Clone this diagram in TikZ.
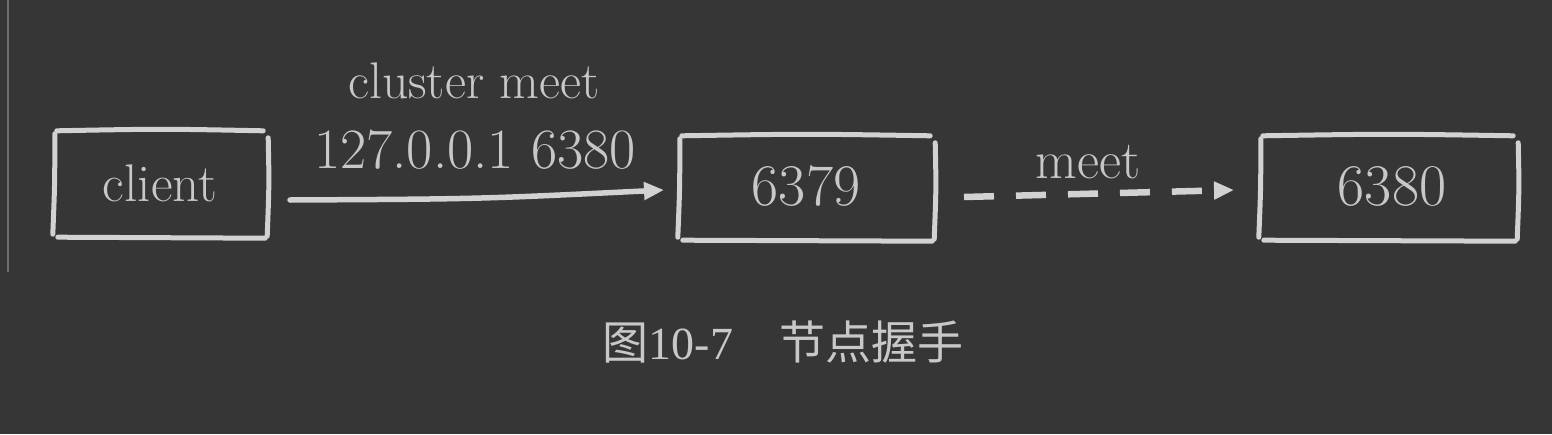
\documentclass[tikz,border=0pt]{standalone}
\usepackage{fontspec}
\newfontfamily\cjk{Noto Sans CJK SC}
\newfontfamily\capserif{Liberation Serif}
\usetikzlibrary{arrows.meta,calc}
\definecolor{bg}{HTML}{363636}
\definecolor{ink}{HTML}{D2D2D2}
\definecolor{txt}{HTML}{C8C8C8}
\definecolor{rule}{HTML}{6E6E6E}
\tikzset{
  boxnode/.style={minimum height=110pt, inner sep=0pt},
  sketch/.style={draw=ink, line width=5pt, line cap=round},
  lbl/.style={text=txt, font=\fontsize{52}{56}\selectfont, inner sep=0pt, anchor=base},
  solidarrow/.style={draw=ink, line width=5.5pt, line cap=round, -{Triangle[length=20pt,width=17pt]}},
  dasharrow/.style={draw=ink, line width=6.5pt, dash pattern=on 30pt off 22pt, -{Triangle[length=20pt,width=17pt]}},
}
\newcommand\sketchbox[1]{%
  \draw[sketch] ([xshift=5pt,yshift=-3pt]#1.north west) .. controls ($(#1.north)+(0,-1pt)$) .. ([xshift=-7pt,yshift=-3pt]#1.north east);
  \draw[sketch] ([xshift=-2pt,yshift=-10pt]#1.north east) .. controls ($(#1.east)+(-1pt,0)$) .. ([xshift=-3pt,yshift=4pt]#1.south east);
  \draw[sketch] ([xshift=6pt,yshift=3pt]#1.south west) .. controls ($(#1.south)+(0,2pt)$) .. ([xshift=-5pt,yshift=2pt]#1.south east);
  \draw[sketch] ([xshift=3pt,yshift=-6pt]#1.north west) .. controls ($(#1.west)+(3pt,0)$) .. ([xshift=1pt,yshift=6pt]#1.south west);
}
\begin{document}
\begin{tikzpicture}[x=1pt,y=-1pt]
\fill[bg] (0,0) rectangle (1552,434);
\useasboundingbox (0,0) rectangle (1552,434);
\draw[rule, line width=1.5pt] (8,0) -- (8,272);
% boxes
\node[boxnode, minimum width=218pt, minimum height=112pt] (client) at (161,184) {};
\node[boxnode, minimum width=260pt] (n6379) at (807,188) {};
\node[boxnode, minimum width=262pt] (n6380) at (1389,188) {};
\sketchbox{client}
\sketchbox{n6379}
\sketchbox{n6380}
% box texts
\node[lbl, font=\fontsize{53}{56}\selectfont] (tclient) at (160,201) {client};
\node[lbl, font=\fontsize{59}{62}\selectfont] (t6379) at (806,205) {6379};
\node[lbl, font=\fontsize{59}{62}\selectfont] (t6380) at (1392,205) {6380};
% arrows
\coordinate (a1s) at (290,200);
\coordinate (a1e) at (664,190);
\draw[solidarrow] (a1s) .. controls (480,199) .. (a1e);
\node[lbl, font=\fontsize{51.5}{55}\selectfont] (l1) at (474,98) {cluster meet};
\node[lbl, font=\fontsize{57}{60}\selectfont] (l2) at (475,168) {127.0.0.1 6380};
\coordinate (a2s) at (964,197);
\coordinate (a2e) at (1234,190);
\draw[dasharrow] (a2s) -- (a2e);
\node[lbl, font=\fontsize{54}{58}\selectfont] (l3) at (1088,178) {meet};
% caption
\node[text=txt, inner sep=0pt, anchor=base, font=\fontsize{46}{50}\selectfont] (cap) at (783,359)
  {{\cjk 图}{\capserif 10-7}\hspace{1em}{\cjk 节点握手}};
\end{tikzpicture}
\end{document}
